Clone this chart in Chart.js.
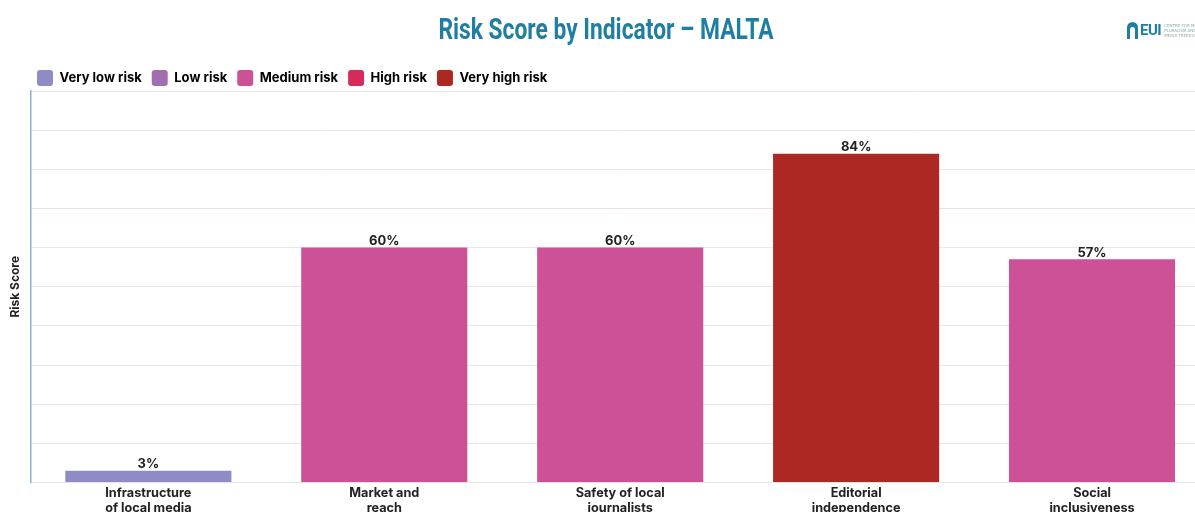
<!DOCTYPE html>
<html>
<head>
<meta charset="utf-8">
<script src="https://cdn.jsdelivr.net/npm/chart.js@4.4.0/dist/chart.umd.min.js"></script>
<style>
html, body { margin: 0; padding: 0; background: #fff; overflow: hidden; }
#wrap { position: relative; width: 1212px; height: 524px; }
#logo { position: absolute; left: 1127px; top: 20px; height: 20px; display: flex; align-items: center; }
#logo .arch { width: 11px; height: 17px; background: #1f7ea2; border-radius: 6px 6px 0 0; position: relative; }
#logo .arch:after { content: ''; position: absolute; left: 3px; top: 5px; width: 5px; height: 12px; background: #fff; border-radius: 3px 3px 0 0; }
#logo .eui { font: bold 15px Roboto, sans-serif; color: #1f7ea2; margin-left: 2px; letter-spacing: -0.5px; }
#logo .small { font: 4px 'DejaVu Sans', sans-serif; color: #8aa; margin-left: 3px; line-height: 5px; white-space: nowrap; }
</style>
</head>
<body>
<div id="wrap">
  <canvas id="riskChart"></canvas>
  <div id="logo"><div class="arch"></div><div class="eui">EUI</div><div class="small">CENTRE FOR MEDIA<br>PLURALISM AND<br>MEDIA FREEDOM</div></div>
</div>
<script>
const chartTitle = 'Risk Score by Indicator \u2013 MALTA';
const categories = [
    ['Infrastructure', 'of local media'],
    ['Market and', 'reach'],
    ['Safety of local', 'journalists'],
    ['Editorial', 'independence'],
    ['Social', 'inclusiveness']
];
const scores = [3, 60, 60, 84, 57];
const riskLevels = ['Very low risk', 'Low risk', 'Medium risk', 'High risk', 'Very high risk'];
const riskColors = ['#8e8bc6', '#a56db1', '#cc5196', '#d42b5b', '#ad2822'];
const barLevels = [0, 2, 2, 4, 2];

// value labels above the bars
const valueLabels = {
    id: 'valueLabels',
    afterDatasetsDraw(chart) {
        const ctx = chart.ctx;
        const meta = chart.getDatasetMeta(0);
        ctx.save();
        ctx.font = 'bold 13px Inter, sans-serif';
        ctx.fillStyle = '#222';
        ctx.textAlign = 'center';
        ctx.textBaseline = 'bottom';
        meta.data.forEach(function (bar, i) {
            ctx.fillText(scores[i] + '%', bar.x, bar.y);
        });
        ctx.restore();
    }
};

// condensed title (no narrow font installed, so squeeze it)
const narrowTitle = {
    id: 'narrowTitle',
    afterDraw(chart) {
        const ctx = chart.ctx;
        ctx.save();
        ctx.font = 'bold 30px Roboto, sans-serif';
        ctx.fillStyle = '#1f7ea2';
        ctx.textAlign = 'center';
        ctx.textBaseline = 'middle';
        ctx.translate(chart.width / 2, 31);
        ctx.scale(0.76, 1);
        ctx.fillText(chartTitle, 0, 0);
        ctx.restore();
    }
};

// nudge the legend so it lines up with the reference
const legendNudge = {
    id: 'legendNudge',
    beforeLayout(chart) {
        const lg = chart.legend;
        if (lg && !lg._patched) {
            const fit = lg.fit.bind(lg);
            lg.fit = function () { fit(); this.height -= 5; };
            lg._patched = true;
        }
    },
    afterLayout(chart) {
        chart.legend.left += 21;
        chart.legend.right += 21;
    }
};

var ctx = document.getElementById('riskChart').getContext('2d');
var riskChart = new Chart(ctx, {
    type: 'bar',
    data: {
        labels: categories,
        datasets: [{
            label: 'Risk Score',
            data: scores,
            backgroundColor: barLevels.map(l => riskColors[l]),
            categoryPercentage: 0.8,
            barPercentage: 0.88
        }]
    },
    plugins: [valueLabels, narrowTitle, legendNudge],
    options: {
        responsive: true,
        maintainAspectRatio: false,
        animation: false,
        layout: { padding: { top: 60, left: 6, right: 2, bottom: 5 } },
        plugins: {
            title: { display: false },
            legend: {
                position: 'top',
                align: 'start',
                onClick: null,
                labels: {
                    boxWidth: 16,
                    boxHeight: 16,
                    useBorderRadius: true,
                    borderRadius: 3,
                    padding: 10,
                    color: '#222',
                    font: { family: 'Inter, sans-serif', size: 13, weight: 'bold' },
                    generateLabels: function () {
                        return riskLevels.map(function (name, i) {
                            return {
                                text: name,
                                fillStyle: riskColors[i],
                                strokeStyle: riskColors[i],
                                lineWidth: 0,
                                borderRadius: 3,
                                hidden: false,
                                index: i
                            };
                        });
                    }
                }
            },
            tooltip: { enabled: false }
        },
        scales: {
            x: {
                grid: { display: false, drawTicks: false },
                border: { color: '#e4e4e4' },
                ticks: {
                    color: '#222',
                    maxRotation: 0,
                    autoSkip: false,
                    padding: 3,
                    font: { family: 'Inter, sans-serif', size: 12.7, weight: 'bold', lineHeight: 1.2 }
                }
            },
            y: {
                min: 0,
                max: 100,
                border: { color: '#86b5cf', width: 1.5 },
                grid: {
                    drawTicks: false,
                    color: function (c) { return c.tick && c.tick.value === 70 ? '#efdede' : '#e8e8e8'; }
                },
                ticks: { display: false, stepSize: 10 },
                title: {
                    display: true,
                    text: 'Risk Score',
                    color: '#222',
                    font: { family: 'Inter, sans-serif', size: 12, weight: 'bold' },
                    padding: { top: 2, bottom: 8 }
                }
            }
        }
    }
});
</script>
</body>
</html>
